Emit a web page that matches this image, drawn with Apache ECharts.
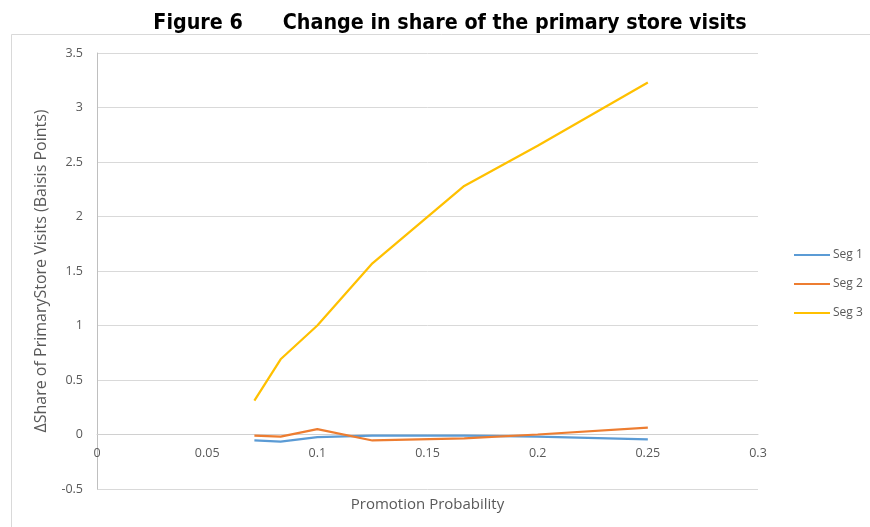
<!DOCTYPE html>
<html>
<head>
<meta charset="utf-8">
<script src="https://cdn.jsdelivr.net/npm/echarts@6/dist/echarts.min.js"></script>
<style>
html,body{margin:0;padding:0;background:#fff;}
#c{width:870px;height:527px;}
</style>
</head>
<body>
<div id="c"></div>
<script>
const promoProb = [1/14, 1/12, 0.1, 0.125, 1/6, 0.2, 0.25];
const seg1 = [-0.055, -0.065, -0.025, -0.01, -0.01, -0.02, -0.045];
const seg2 = [-0.01, -0.02, 0.05, -0.055, -0.035, 0.0, 0.062];
const seg3 = [0.31, 0.69, 1.0, 1.57, 2.28, 2.65, 3.23];
const seriesNames = ['Seg 1', 'Seg 2', 'Seg 3'];
const yTicks = {min: -0.5, max: 3.5, interval: 0.5};
const xTicks = {min: 0, max: 0.3, interval: 0.05};

const colors = ['#5B9BD5', '#ED7D31', '#FFC000'];
const fam = '"Open Sans", "DejaVu Sans", sans-serif';
const chart = echarts.init(document.getElementById('c'), null, {renderer: 'canvas'});
const mk = (arr) => promoProb.map((x, i) => [x, arr[i]]);
chart.setOption({
  animation: false,
  color: colors,
  graphic: [{
    type: 'rect', left: 11, top: 34, z: -1,
    shape: {x: 0, y: 0, width: 880, height: 520},
    style: {fill: '#fff', stroke: '#d9d9d9', lineWidth: 1}
  }],
  title: {
    text: 'Figure 6      Change in share of the primary store visits',
    left: 445, top: 8, textAlign: 'center',
    textStyle: {fontSize: 21.3, fontWeight: 'bold', color: '#000', fontFamily: '"DejaVu Sans Condensed", "DejaVu Sans", sans-serif'}
  },
  grid: {left: 97, right: 112, top: 53, bottom: 38, containLabel: false, outerBoundsMode: 'none'},
  legend: {
    orient: 'vertical', left: 794, top: 249, padding: 0,
    icon: 'rect', itemWidth: 36, itemHeight: 2, itemGap: 17,
    textStyle: {fontSize: 12, color: '#595959', fontFamily: fam, padding: [0,0,0,-2]},
    data: seriesNames
  },
  xAxis: {
    type: 'value', min: xTicks.min, max: xTicks.max, interval: xTicks.interval,
    name: 'Promotion Probability', nameLocation: 'middle', nameGap: 8,
    nameTextStyle: {fontSize: 15, color: '#595959', fontFamily: fam},
    axisLine: {show: true, onZero: true, lineStyle: {color: '#d0d0d0', width: 1}},
    axisTick: {show: false},
    splitLine: {show: false},
    axisLabel: {fontSize: 12.5, color: '#595959', fontFamily: fam, margin: -42}
  },
  yAxis: {
    type: 'value', min: yTicks.min, max: yTicks.max, interval: yTicks.interval,
    name: 'ΔShare of PrimaryStore Visits (Baisis Points)', nameLocation: 'middle', nameGap: 48,
    nameTextStyle: {fontSize: 16, color: '#595959', fontFamily: fam},
    axisLine: {show: true, lineStyle: {color: '#bfbfbf', width: 1}},
    axisTick: {show: false},
    splitLine: {show: true, lineStyle: {color: '#d9d9d9', width: 1}},
    axisLabel: {fontSize: 12.5, color: '#595959', fontFamily: fam, margin: 14}
  },
  series: [seg1, seg2, seg3].map((arr, i) => ({
    name: seriesNames[i], type: 'line', data: mk(arr),
    showSymbol: false, symbol: 'none',
    lineStyle: {width: 2.25, color: colors[i]}
  }))
});
</script>
</body>
</html>
